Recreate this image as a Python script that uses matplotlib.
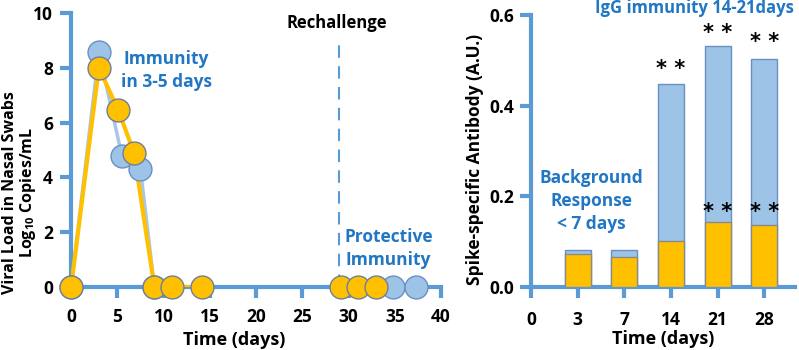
import matplotlib.pyplot as plt

plt.rcParams['font.family'] = ['Open Sans', 'DejaVu Sans']
plt.rcParams['font.weight'] = 'bold'
plt.rcParams['mathtext.fontset'] = 'custom'
plt.rcParams['mathtext.bf'] = 'Open Sans:bold'
plt.rcParams['mathtext.rm'] = 'Open Sans:bold'

spine_blue = '#5b9bd5'
text_blue = '#2277c4'
gold = '#ffc000'
light_blue = '#9dc3e6'

# viral load (left panel)
gold_days = [0, 3, 5.1, 6.8, 9, 10.9, 14.1]
gold_load = [0, 8.0, 6.45, 4.9, 0, 0, 0]
blue_days = [0, 3, 5.5, 7.5, 9]
blue_load = [0, 8.58, 4.77, 4.3, 0]
gold_re_days = [29.2, 31, 33]
blue_re_days = [34.8, 37.3]
rechallenge_day = 29

# antibody (right panel)
ab_labels = ['0', '3', '7', '14', '21', '28']
ab_pos = [1, 2, 3, 4, 5]
ab_total = [0.082, 0.082, 0.448, 0.532, 0.503]
ab_gold = [0.073, 0.066, 0.102, 0.144, 0.137]
star_top = [None, None, 0.48, 0.56, 0.54]
star_low = [None, None, None, 0.166, 0.166]

fig = plt.figure(figsize=(7.99, 3.5), dpi=100)

ax = fig.add_axes([0.089, 0.18, 0.463, 0.783])
ax.plot(blue_days, blue_load, color='#a9c6e8', lw=2.5, zorder=2)
ax.plot(gold_days, gold_load, color=gold, lw=3, zorder=3)
ax.plot(blue_days, blue_load, 'o', ms=16.5, mfc=light_blue, mec='#6a8fc4', mew=1, ls='none', zorder=4, clip_on=False)
ax.plot(gold_days, gold_load, 'o', ms=16.5, mfc=gold, mec='#6f7f99', mew=1, ls='none', zorder=5, clip_on=False)
ax.plot(blue_re_days, [0] * len(blue_re_days), 'o', ms=16.5, mfc=light_blue, mec='#6a8fc4', mew=1, ls='none', zorder=4, clip_on=False)
ax.plot(gold_re_days, [0] * len(gold_re_days), 'o', ms=16.5, mfc=gold, mec='#6f7f99', mew=1, ls='none', zorder=5, clip_on=False)
ax.axvline(rechallenge_day, ymin=0, ymax=0.91, color=spine_blue, lw=1.5, ls=(0, (6, 4)))
ax.set_xlim(0, 40)
ax.set_ylim(0, 10)
ax.set_xticks(range(0, 41, 5))
ax.set_yticks(range(0, 11, 2))
for s in ['top', 'right']:
    ax.spines[s].set_visible(False)
for s in ['left', 'bottom']:
    ax.spines[s].set_color(spine_blue)
    ax.spines[s].set_linewidth(3)
ax.tick_params(colors=spine_blue, width=3, length=8, labelcolor='black', labelsize=12.5)
ax.tick_params(axis='y', pad=5)
ax.tick_params(axis='x', pad=7)
ax.set_xlabel('Time (days)', fontsize=13, fontweight='bold')
ax.xaxis.set_label_coords(0.44, -0.193)
ax.xaxis.label.set_va('center')
fig.text(0.0245, 0.45, 'Viral Load in Nasal Swabs\nLog$_{\\mathbf{10}}$ Copies/mL', rotation=90,
         ha='center', va='center', fontsize=11.5, fontweight='bold', linespacing=1.0)
ax.text(28.7, 9.63, 'Rechallenge', ha='center', va='center', fontsize=12, fontweight='bold')
ax.text(10.3, 7.9, 'Immunity\nin 3-5 days', ha='center', va='center', fontsize=12.5, fontweight='bold', color=text_blue, linespacing=1.35)
ax.text(34.3, 1.4, 'Protective\nImmunity', ha='center', va='center', fontsize=12.5, fontweight='bold', color=text_blue, linespacing=1.35)

ax2 = fig.add_axes([0.6646, 0.18, 0.330, 0.777])
ax2.bar(ab_pos, ab_total, width=0.56, color=light_blue, edgecolor='#6a8fc4', lw=1, zorder=2)
ax2.bar(ab_pos, ab_gold, width=0.56, color=gold, edgecolor='#8a8a8a', lw=1, zorder=3)
for p, v in zip(ab_pos, star_top):
    if v is not None:
        ax2.text(p, v, '* *', ha='center', va='center', fontsize=15, family='DejaVu Sans')
for p, v in zip(ab_pos, star_low):
    if v is not None:
        ax2.text(p, v, '* *', ha='center', va='center', fontsize=15, family='DejaVu Sans', zorder=5)
ax2.set_xlim(0, 5.65)
ax2.set_ylim(0, 0.6)
ax2.set_xticks(range(len(ab_labels)))
ax2.set_xticklabels(ab_labels)
ax2.set_yticks([0.0, 0.2, 0.4, 0.6])
ax2.set_yticklabels(['0.0', '0.2', '0.4', '0.6'])
for s in ['top', 'right']:
    ax2.spines[s].set_visible(False)
for s in ['left', 'bottom']:
    ax2.spines[s].set_color(spine_blue)
    ax2.spines[s].set_linewidth(3)
ax2.tick_params(colors=spine_blue, width=3, length=8, labelcolor='black', labelsize=12.5)
ax2.tick_params(axis='y', pad=4)
ax2.tick_params(axis='x', pad=9)
ax2.set_xlabel('Time (days)', fontsize=13, fontweight='bold')
ax2.xaxis.set_label_coords(0.5, -0.19)
ax2.xaxis.label.set_va('center')
ax2.set_ylabel('Spike-specific Antibody (A.U.)', fontsize=12.5, fontweight='bold')
ax2.yaxis.set_label_coords(-0.18, 0.47)
ax2.text(3.5, 0.615, 'IgG immunity 14-21days', ha='center', va='center', fontsize=12, fontweight='bold', color=text_blue)
ax2.text(1.3, 0.19, 'Background\nResponse\n< 7 days', ha='center', va='center', fontsize=12.5, fontweight='bold', color=text_blue, linespacing=1.35)

fig.savefig('out.png', dpi=100)
